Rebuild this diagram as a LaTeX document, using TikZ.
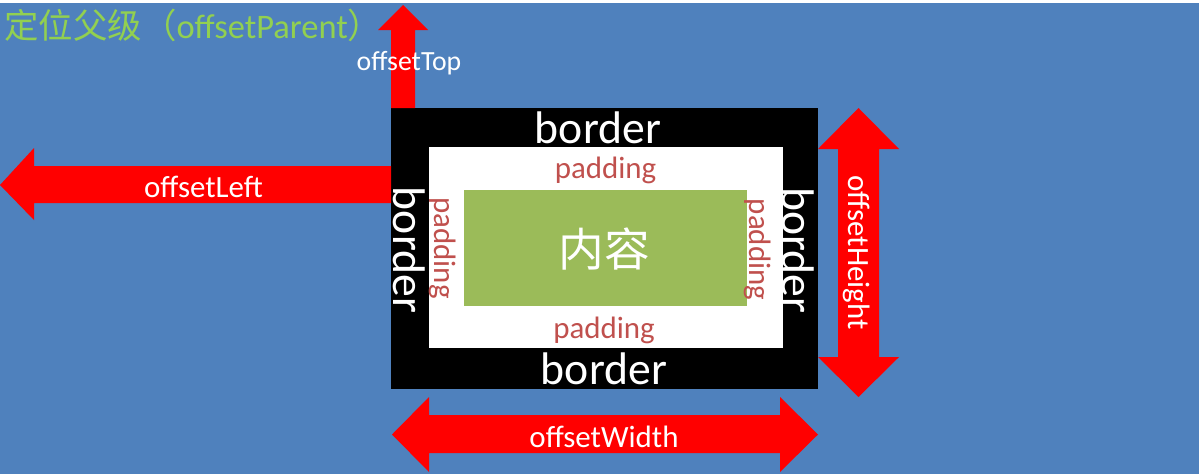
\documentclass[tikz,border=0pt]{standalone}
\usepackage{fontspec}
\setmainfont{Carlito}
\newfontfamily\cjk{Noto Sans CJK SC}
\usetikzlibrary{positioning}
\definecolor{cBg}{RGB}{79,129,189}
\definecolor{cTitle}{RGB}{146,208,80}
\definecolor{cContent}{RGB}{155,187,89}
\definecolor{cPad}{RGB}{192,80,77}
\tikzset{
	bigarrow/.style ={fill=red},
	bordertxt/.style={text=white, inner sep=0pt, font=\fontsize{26}{30}\selectfont},
	padtxt/.style   ={text=cPad, inner sep=0pt, font=\fontsize{17.6}{20}\selectfont},
	offtxt/.style   ={text=white, inner sep=0pt, font=\fontsize{17.6}{20}\selectfont},
	vert/.style     ={rotate=-90},
}
\begin{document}
\begin{tikzpicture}[x=0.02cm, y=-0.02cm]
	% background (pixel grid, y down)
	\fill[cBg] (0,0) rectangle (1199,474);
	\fill[white] (0,0) rectangle (1199,3);
	% box model
	\fill[black] (391,108) rectangle (818,389);
	\fill[white] (429,147) rectangle (783,348);
	\fill[cContent] (464,190) rectangle (747,306);
	% block arrows
	\fill[bigarrow] (403,5) -- (428,30) -- (415,30) -- (415,108) -- (391,108) -- (391,30) -- (378,30) -- cycle;
	\fill[bigarrow] (0,185) -- (34,148) -- (34,166) -- (391,166) -- (391,203) -- (34,203) -- (34,220) -- cycle;
	\fill[bigarrow] (858.5,108) -- (899,149) -- (879,149) -- (879,357) -- (899,357) -- (858.5,397)
		-- (818,357) -- (838,357) -- (838,149) -- (818,149) -- cycle;
	\fill[bigarrow] (392,434.5) -- (429,397) -- (429,415) -- (780,415) -- (780,397) -- (818,434.5)
		-- (780,472) -- (780,453) -- (429,453) -- (429,472) -- cycle;
	% labels
	\node[anchor=west, text=cTitle, inner sep=0pt, font=\fontsize{19.6}{22}\selectfont] (parent) at (4,25) {{\cjk 定位父级（}offsetParent{\cjk ）}};
	\node[offtxt, font=\fontsize{15.8}{18}\selectfont] (top) at (409,63.5) {offsetTop};
	\node[offtxt] (left) at (203.5,187) {offsetLeft};
	\node[offtxt, vert] (height) at (857,252.5) {offsetHeight};
	\node[offtxt] (width) at (604,437) {offsetWidth};
	\node[bordertxt] (btop) at (598,128) {border};
	\node[bordertxt] (bbot) at (604,368.5) {border};
	\node[bordertxt, vert] (bleft) at (409,250) {border};
	\node[bordertxt, vert] (bright) at (798.5,250.5) {border};
	\node[padtxt] (ptop) at (605.5,170.5) {padding};
	\node[padtxt] (pbot) at (604,330.5) {padding};
	\node[padtxt, vert] (pleft) at (443,248) {padding};
	\node[padtxt, vert] (pright) at (758,249.5) {padding};
	\node[text=white, inner sep=0pt, font=\cjk\fontsize{26}{30}\selectfont] (content) at (604.5,249) {内容};
\end{tikzpicture}
\end{document}
